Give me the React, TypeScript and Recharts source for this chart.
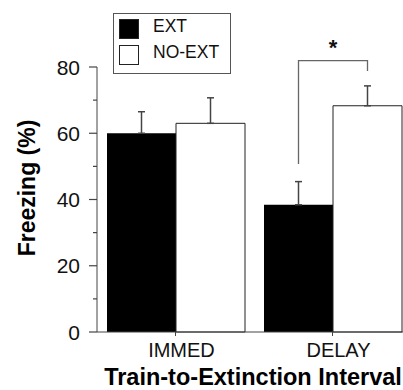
import { BarChart, Bar, XAxis, YAxis, ErrorBar, LabelList, Legend, Label } from 'recharts'

const INTERVALS = ['IMMED', 'DELAY']
const EXT = [60, 38.4]
const EXT_SEM = [6.5, 7]
const NO_EXT = [63, 68.3]
const NO_EXT_SEM = [7.7, 6]
const Y_TICKS = [0, 10, 20, 30, 40, 50, 60, 70, 80]

// significance bracket over DELAY (in % units)
const SIG_INDEX = 1
const BRACKET_TOP = 81.9
const BRACKET_LEFT_END = 50.7
const BRACKET_RIGHT_END = 78.8

const DATA = INTERVALS.map((interval, i) => ({
  interval,
  ext: EXT[i],
  extErr: [0, EXT_SEM[i]],
  noExt: NO_EXT[i],
  noExtErr: [0, NO_EXT_SEM[i]],
}))

const FONT = '"Liberation Sans", Arial, Helvetica, sans-serif'
const AXIS = '#444'

const YTick = ({ x, y, payload }: any) => {
  const major = payload.value % 20 === 0
  const axisX = x + 17
  return (
    <g>
      <line x1={axisX - (major ? 8 : 4)} x2={axisX} y1={y} y2={y} stroke={AXIS} strokeWidth={1.2} />
      {major && (
        <text x={x} y={y} dy="0.36em" textAnchor="end" fontSize={21} fontFamily={FONT} fill="#111">
          {payload.value}
        </text>
      )}
    </g>
  )
}

const Bracket = (props: any) => {
  if (props.index !== SIG_INDEX) return null
  const vb = props.viewBox ?? props
  const { x, y, width, height } = vb
  const k = height / props.value
  const base = y + height
  const rightX = x + width / 2
  const leftX = x - width / 2
  const top = base - BRACKET_TOP * k
  return (
    <g stroke="#666" strokeWidth={1.3} fill="none">
      <polyline points={`${leftX},${base - BRACKET_LEFT_END * k} ${leftX},${top} ${rightX},${top} ${rightX},${base - BRACKET_RIGHT_END * k}`} />
      <text x={(leftX + rightX) / 2} y={top - 6} textAnchor="middle" fontSize={22} fontWeight="bold" fontFamily={FONT} fill="#111" stroke="none">*</text>
    </g>
  )
}

const LegendBox = ({ payload }: any) => (
  <div style={{ boxSizing: 'border-box', width: 118, height: 61, border: '1px solid #555', background: '#fff', padding: '5px 0 0 5px', fontFamily: FONT }}>
    {(payload || []).map((p: any, i: number) => (
      <div key={p.value} style={{ display: 'flex', alignItems: 'center', height: 20, marginBottom: i === 0 ? 6 : 0 }}>
        <div style={{ boxSizing: 'border-box', width: 20, height: 20, background: p.color, border: '1px solid #222' }} />
        <span style={{ marginLeft: 14, fontSize: 17.5, color: '#111', position: 'relative', top: -2 }}>{p.value}</span>
      </div>
    ))}
  </div>
)

export default function App() {
  return (
    <div style={{ position: 'absolute', left: 0, top: 0, width: 403, height: 390, overflow: 'hidden', background: '#fff' }}>
      <BarChart width={420} height={390} data={DATA} margin={{ top: 67, right: 9, left: 0, bottom: 0 }} barCategoryGap={10} barGap={0}>
        <XAxis
          dataKey="interval"
          height={58}
          tickSize={4}
          tickMargin={7}
          stroke={AXIS}
          tick={{ fill: '#111', fontSize: 20, fontFamily: FONT, dx: 6 }}
        >
          <Label
            content={({ viewBox }: any) => (
              <text x={viewBox.x + viewBox.width / 2 - 1} y={viewBox.y + viewBox.height - 5} textAnchor="middle" fontSize={23.5} fontWeight="bold" fontFamily={FONT} fill="#000">
                Train-to-Extinction Interval
              </text>
            )}
          />
        </XAxis>
        <YAxis
          domain={[0, 80]}
          ticks={Y_TICKS}
          interval={0}
          width={97}
          tickSize={8}
          tickMargin={9}
          tickLine={false}
          stroke={AXIS}
          tick={<YTick />}
        >
          <Label
            content={({ viewBox }: any) => {
              const lx = viewBox.x + 35
              const ly = viewBox.y + viewBox.height / 2 - 11.5
              return (
                <text x={lx} y={ly} transform={`rotate(-90, ${lx}, ${ly})`} textAnchor="middle" fontSize={23} fontWeight="bold" fontFamily={FONT} fill="#000">
                  Freezing (%)
                </text>
              )
            }}
          />
        </YAxis>
        <Legend
          layout="vertical"
          align="center"
          verticalAlign="middle"
          wrapperStyle={{ left: 113, top: 12.7 }}
          content={<LegendBox />}
        />
        <Bar dataKey="ext" name="EXT" fill="#000" isAnimationActive={false}>
          <ErrorBar dataKey="extErr" direction="y" width={3.5} stroke={AXIS} strokeWidth={1.5} />
        </Bar>
        <Bar dataKey="noExt" name="NO-EXT" fill="#fff" stroke="#222" strokeWidth={1} isAnimationActive={false}>
          <ErrorBar dataKey="noExtErr" direction="y" width={3.5} stroke={AXIS} strokeWidth={1.5} />
          <LabelList dataKey="noExt" content={<Bracket />} />
        </Bar>
      </BarChart>
    </div>
  )
}
